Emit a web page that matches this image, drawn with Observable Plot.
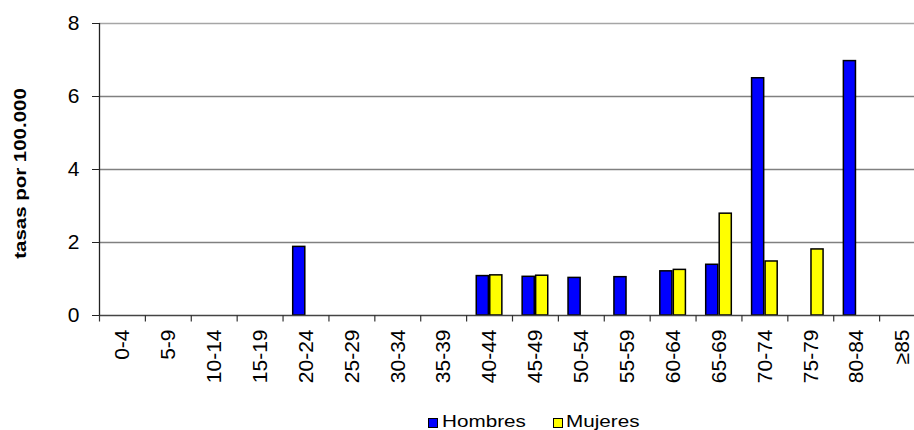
<!DOCTYPE html>
<html>
<head>
<meta charset="utf-8">
<script src="https://cdn.jsdelivr.net/npm/d3@7"></script>
<script src="https://cdn.jsdelivr.net/npm/@observablehq/plot@0.6"></script>
<style>
  html, body { margin: 0; padding: 0; background: #fff; }
  body { font-family: "Liberation Sans", Arial, sans-serif; width: 914px; height: 430px; overflow: hidden; }
  #legend { position: relative; width: 914px; height: 32px; font-size: 16.3px; color: #000; }
  #legend .sw { position: absolute; width: 8px; height: 7.5px; border: 1.5px solid #000; }
  #legend .lb { position: absolute; line-height: 16.3px; white-space: nowrap; transform: scaleX(1.27); transform-origin: 0 0; }
</style>
</head>
<body>
<div id="chart"></div>
<div id="legend"></div>
<script>
// ---- data ----
const ageGroups = ["0-4","5-9","10-14","15-19","20-24","25-29","30-34","35-39","40-44","45-49","50-54","55-59","60-64","65-69","70-74","75-79","80-84","≥85"];
const hombres = [null,null,null,null,1.88,null,null,null,1.08,1.06,1.03,1.05,1.21,1.39,6.50,null,6.97,null];
const mujeres = [null,null,null,null,null,null,null,null,1.10,1.09,null,null,1.25,2.79,1.48,1.81,null,null];
const seriesNames = ["Hombres","Mujeres"];
const seriesColors = ["#0000ff","#ffff00"];
const yTicks = [0,2,4,6,8];
const yLabel = "tasas por 100.000";

// ---- layout ----
const W = 914, H = 398, mLeft = 99, rightEdge = 925, mTop = 23, axisBottom = 315;
const bw = (rightEdge - mLeft) / ageGroups.length;
const barW = 12.8;

const rowsH = ageGroups.map((a, i) => ({age: a, value: hombres[i]})).filter(d => d.value != null);
const rowsM = ageGroups.map((a, i) => ({age: a, value: mujeres[i]})).filter(d => d.value != null);

const chart = Plot.plot({
  width: W,
  height: H,
  marginLeft: mLeft,
  marginRight: W - rightEdge,
  marginTop: mTop,
  marginBottom: H - axisBottom,
  style: {fontFamily: "'Liberation Sans', Arial, sans-serif", fontSize: "21px", color: "#000", background: "#fff", overflow: "hidden"},
  x: {type: "band", domain: ageGroups, padding: 0, round: false, range: [mLeft, rightEdge], label: null},
  y: {domain: [yTicks[0], yTicks[yTicks.length - 1]], label: null},
  marks: [
    Plot.ruleY(yTicks.slice(1), {y: d => d, stroke: d => d === yTicks[yTicks.length - 1] ? "#a6a6a6" : "#808080", strokeWidth: 1.3}),
    Plot.barY(rowsH, {x: "age", y: "value", fill: seriesColors[0], stroke: "#000", strokeWidth: 1.5,
      insetLeft: bw / 2 - barW, insetRight: bw / 2 + 0.7}),
    Plot.barY(rowsM, {x: "age", y: "value", fill: seriesColors[1], stroke: "#000", strokeWidth: 1.5,
      insetLeft: bw / 2 + 0.7, insetRight: bw / 2 - barW}),
    Plot.ruleY([yTicks[0]], {y: d => d, stroke: "#444", strokeWidth: 1.3}),
    Plot.ruleX([ageGroups[0]], {x: d => d, dx: -bw / 2, y1: yTicks[0], y2: yTicks[yTicks.length - 1], stroke: "#222", strokeWidth: 1.3}),
    Plot.axisX({anchor: "bottom", tickSize: 6.5, dx: -bw / 2, tickFormat: () => "", label: null, stroke: "#333", strokeWidth: 1.2}),
    Plot.axisX({anchor: "bottom", tickSize: 0, tickRotate: -90, tickPadding: 14, fontSize: 21, label: null, fill: "#000"}),
    Plot.axisY({anchor: "left", ticks: yTicks, tickSize: 7, tickPadding: 13, fontSize: 21, label: null, stroke: "#222", fill: "#000"}),
    Plot.text([yLabel], {text: d => d, frameAnchor: "left", textAnchor: "middle", rotate: -90, dx: -79, dy: 4, fontSize: 16, fontWeight: "bold", fill: "#000", className: "ylab"})
  ]
});
document.getElementById("chart").appendChild(chart);
// the reference title is drawn stretched along its length
chart.querySelectorAll(".ylab text").forEach(t => {
  t.setAttribute("transform", (t.getAttribute("transform") || "") + " scale(1.28,1)");
});

// ---- legend ----
const legend = document.getElementById("legend");
const legendPos = [{sw: 428.3, tx: 441.5}, {sw: 553.3, tx: 565.5}];
seriesNames.forEach((name, i) => {
  const sw = document.createElement("div");
  sw.className = "sw";
  sw.style.left = legendPos[i].sw + "px";
  sw.style.top = "20px";
  sw.style.background = seriesColors[i];
  legend.appendChild(sw);
  const lb = document.createElement("div");
  lb.className = "lb";
  lb.style.left = legendPos[i].tx + "px";
  lb.style.top = "14.7px";
  lb.textContent = name;
  legend.appendChild(lb);
});
</script>
</body>
</html>
